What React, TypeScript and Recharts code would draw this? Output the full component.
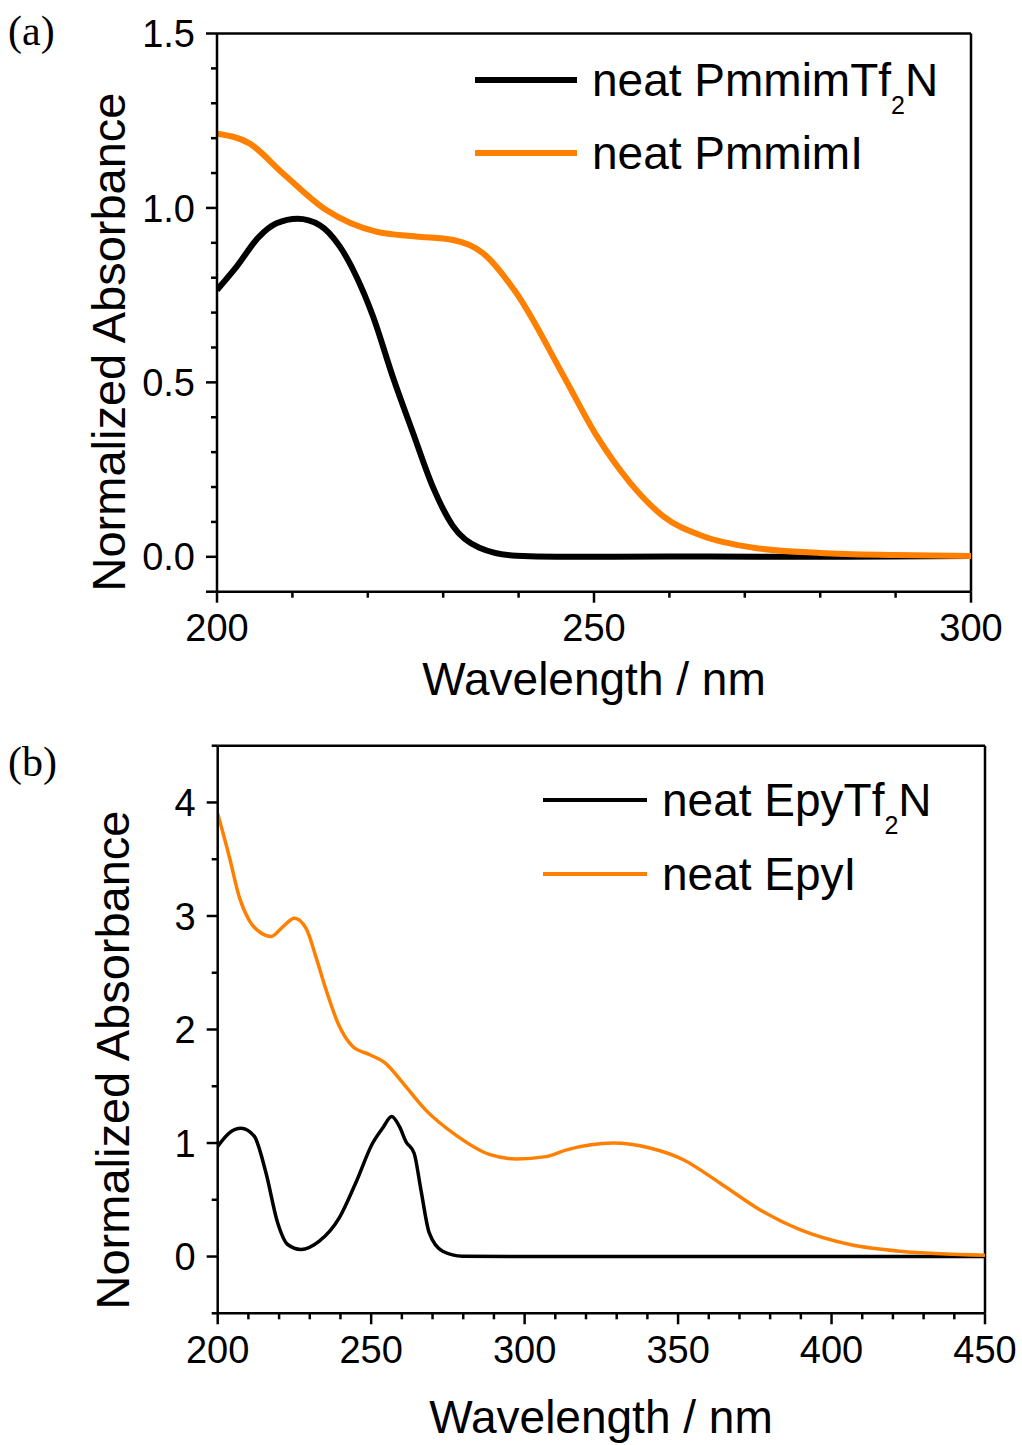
import React from 'react';
import { LineChart, Line, XAxis, YAxis, ReferenceLine, Legend, Label } from 'recharts';

const FONT = '"Liberation Sans", Arial, Helvetica, sans-serif';
const SERIF = '"Liberation Serif", "Times New Roman", serif';
const ORANGE = '#FF8000';

// ---------- Panel (a) data ----------
const wlA_Tf2N = [200, 202.6, 205.6, 207.9, 210.7, 213.6, 216.3, 218.5, 220.7, 223.3, 226.0, 228.6, 231.3, 234.8, 239.7, 245, 260, 280, 300];
const absA_Tf2N = [0.765, 0.832, 0.918, 0.956, 0.969, 0.951, 0.889, 0.803, 0.689, 0.517, 0.355, 0.202, 0.088, 0.026, 0.003, 0.0, 0.001, 0.0, 0.002];

const wlA_I = [200, 204.3, 208.75, 214.5, 221.1, 226.4, 231.3, 235.3, 239.7, 246.0, 250.4, 254.8, 259.2, 264.5, 271.2, 280, 290, 300];
const absA_I = [1.213, 1.185, 1.099, 0.994, 0.932, 0.918, 0.908, 0.87, 0.756, 0.517, 0.345, 0.212, 0.116, 0.059, 0.026, 0.011, 0.005, 0.002];

const xMajorA = [200, 250, 300];
const xMinorA = [210, 220, 230, 240, 260, 270, 280, 290];
const yMajorA = [0, 0.5, 1.0, 1.5];
const yMajorLabelsA = ['0.0', '0.5', '1.0', '1.5'];
const yMinorA = [-0.1, 0.1, 0.2, 0.3, 0.4, 0.6, 0.7, 0.8, 0.9, 1.1, 1.2, 1.3, 1.4];

// ---------- Panel (b) data ----------
const wlB_Tf2N = [200, 203.8, 207.6, 211.9, 215.7, 219.5, 222.8, 227.1, 233.1, 239.6, 245.0, 250.5, 253.7, 256.7, 259.2, 261.3, 264.0, 266.2, 268.9, 273.3, 279.8, 300, 350, 400, 450];
const absB_Tf2N = [0.97, 1.09, 1.13, 1.06, 0.74, 0.3, 0.106, 0.062, 0.135, 0.34, 0.65, 1.0, 1.13, 1.234, 1.146, 1.014, 0.91, 0.59, 0.21, 0.047, 0.003, 0, 0, 0, 0];

const wlB_I = [200, 203.8, 207.0, 210.3, 214.1, 217.4, 221.2, 225.0, 228.8, 232.0, 235.3, 239.6, 244.0, 249.4, 254.8, 260.3, 267.8, 277.6, 288.5, 297.3, 306.9, 313.7, 328.9, 340.8, 351.7, 363.6, 376.6, 389.7, 406.0, 422.3, 450];
const absB_I = [3.9, 3.52, 3.17, 2.96, 2.85, 2.82, 2.905, 2.98, 2.89, 2.64, 2.35, 2.03, 1.85, 1.78, 1.7, 1.53, 1.29, 1.07, 0.9, 0.86, 0.88, 0.94, 1.0, 0.956, 0.853, 0.648, 0.413, 0.237, 0.106, 0.047, 0.012];

const xMajorB = [200, 250, 300, 350, 400, 450];
const xMinorB = [210, 220, 230, 240, 260, 270, 280, 290, 310, 320, 330, 340, 360, 370, 380, 390, 410, 420, 430, 440];
const yMajorB = [0, 1, 2, 3, 4];
const yMajorLabelsB = ['0', '1', '2', '3', '4'];
const yMinorB = [-0.5, 0.5, 1.5, 2.5, 3.5, 4.5];

const toSeries = (xs: number[], ys: number[]) => xs.map((x, i) => ({ x, y: ys[i] }));

const near = (a: number, b: number) => Math.abs(a - b) < 1e-6;

const makeXTick = (majors: number[], labels: string[]) => (props: any) => {
  const { x, y, payload } = props;
  const v = payload.value;
  const idx = majors.findIndex((m) => near(m, v));
  const isMajor = idx >= 0;
  return (
    <g>
      <line x1={x} y1={y} x2={x} y2={y + (isMajor ? 11 : 6)} stroke="#000" strokeWidth={2.5} />
      {isMajor && (
        <text x={x} y={y + 49.5} textAnchor="middle" fontSize={38} fontFamily={FONT} fill="#000">
          {labels[idx]}
        </text>
      )}
    </g>
  );
};

const makeYTick = (majors: number[], labels: string[], longMinor: number[]) => (props: any) => {
  const { x, y, payload } = props;
  const v = payload.value;
  const idx = majors.findIndex((m) => near(m, v));
  const isMajor = idx >= 0;
  const len = isMajor || longMinor.some((m) => near(m, v)) ? 11 : 6;
  return (
    <g>
      <line x1={x - len} y1={y} x2={x} y2={y} stroke="#000" strokeWidth={2.5} />
      {isMajor && (
        <text x={x - 22} y={y} dy="0.36em" textAnchor="end" fontSize={38} fontFamily={FONT} fill="#000">
          {labels[idx]}
        </text>
      )}
    </g>
  );
};

const LegendBox = ({ tag, tagY, rows, lineX1, lineX2, textX, width }: any) => (
  <svg width={1022} height={200} style={{ overflow: 'visible' }}>
    <text x={8} y={tagY} fontSize={42} fontFamily={SERIF} fill="#000">{tag}</text>
    {rows.map((r: any, i: number) => (
      <g key={i}>
        <line x1={lineX1} y1={r.y} x2={lineX2} y2={r.y} stroke={r.color} strokeWidth={width} />
        <text x={textX} y={r.y + 16} fontSize={46} fontFamily={FONT} fill="#000">
          {r.main}
          {r.sub && (
            <>
              <tspan fontSize={25} dy={18}>{r.sub}</tspan>
              <tspan fontSize={46} dy={-18}>{r.tail}</tspan>
            </>
          )}
        </text>
      </g>
    ))}
  </svg>
);

const yLabel = (cx: number, cy: number) => () => (
  <text x={cx} y={cy} transform={`rotate(-90 ${cx} ${cy})`} dy="0.36em" textAnchor="middle" fontSize={47} fontFamily={FONT} fill="#000">
    Normalized Absorbance
  </text>
);

const xLabel = (cx: number, baseline: number) => () => (
  <text x={cx} y={baseline} textAnchor="middle" fontSize={46} fontFamily={FONT} fill="#000">
    Wavelength / nm
  </text>
);

const axisLineStyle = { stroke: '#000', strokeWidth: 2.5 };

function PanelA() {
  const s1 = toSeries(wlA_Tf2N, absA_Tf2N);
  const s2 = toSeries(wlA_I, absA_I);
  const xTicks = [...xMajorA, ...xMinorA].sort((a, b) => a - b);
  const yTicks = [...yMajorA, ...yMinorA].sort((a, b) => a - b);
  return (
    <LineChart width={1022} height={720} margin={{ top: 33.5, right: 51, left: 0, bottom: 0 }}>
      <XAxis
        type="number"
        dataKey="x"
        domain={[200, 300]}
        allowDataOverflow
        ticks={xTicks}
        interval={0}
        tickSize={0}
        tickMargin={0}
        tickLine={false}
        axisLine={axisLineStyle}
        stroke="#000"
        height={128.3}
        tick={makeXTick(xMajorA, xMajorA.map(String))}
      >
        <Label content={xLabel(594, 695)} />
      </XAxis>
      <YAxis
        type="number"
        domain={[-0.1, 1.5]}
        allowDataOverflow
        ticks={yTicks}
        interval={0}
        tickSize={0}
        tickMargin={0}
        tickLine={false}
        axisLine={axisLineStyle}
        stroke="#000"
        width={217}
        tick={makeYTick(yMajorA, yMajorLabelsA, [-0.1])}
      >
        <Label content={yLabel(108, 342)} />
      </YAxis>
      <ReferenceLine y={1.5} stroke="#000" strokeWidth={2.5} />
      <ReferenceLine x={300} stroke="#000" strokeWidth={2.5} />
      <Line data={s1} dataKey="y" type="monotone" stroke="#000" strokeWidth={6} dot={false} isAnimationActive={false} name="neat PmmimTf2N" />
      <Line data={s2} dataKey="y" type="monotone" stroke={ORANGE} strokeWidth={6} dot={false} isAnimationActive={false} name="neat PmmimI" />
      <Legend
        layout="vertical"
        verticalAlign="middle"
        align="center"
        wrapperStyle={{ left: 0, top: 0, width: 1022, height: 200, pointerEvents: 'none' }}
        content={() => (
          <LegendBox
            tag="(a)"
            tagY={45}
            lineX1={475}
            lineX2={577}
            textX={592}
            width={6}
            rows={[
              { y: 80, color: '#000', main: 'neat PmmimTf', sub: '2', tail: 'N' },
              { y: 153, color: ORANGE, main: 'neat PmmimI' },
            ]}
          />
        )}
      />
    </LineChart>
  );
}

function PanelB() {
  const s1 = toSeries(wlB_Tf2N, absB_Tf2N);
  const s2 = toSeries(wlB_I, absB_I);
  const xTicks = [...xMajorB, ...xMinorB].sort((a, b) => a - b);
  const yTicks = [...yMajorB, ...yMinorB].sort((a, b) => a - b);
  return (
    <LineChart width={1022} height={725} margin={{ top: 25.7, right: 37, left: 0, bottom: 0 }}>
      <XAxis
        type="number"
        dataKey="x"
        domain={[200, 450]}
        allowDataOverflow
        ticks={xTicks}
        interval={0}
        tickSize={0}
        tickMargin={0}
        tickLine={false}
        axisLine={axisLineStyle}
        stroke="#000"
        height={131.7}
        tick={makeXTick(xMajorB, xMajorB.map(String))}
      >
        <Label content={xLabel(601, 713)} />
      </XAxis>
      <YAxis
        type="number"
        domain={[-0.5, 4.5]}
        allowDataOverflow
        ticks={yTicks}
        interval={0}
        tickSize={0}
        tickMargin={0}
        tickLine={false}
        axisLine={axisLineStyle}
        stroke="#000"
        width={217.7}
        tick={makeYTick(yMajorB, yMajorLabelsB, [])}
      >
        <Label content={yLabel(112, 340)} />
      </YAxis>
      <ReferenceLine y={4.5} stroke="#000" strokeWidth={2.5} />
      <ReferenceLine x={450} stroke="#000" strokeWidth={2.5} />
      <Line data={s1} dataKey="y" type="monotone" stroke="#000" strokeWidth={3.5} dot={false} isAnimationActive={false} name="neat EpyTf2N" />
      <Line data={s2} dataKey="y" type="monotone" stroke={ORANGE} strokeWidth={3.5} dot={false} isAnimationActive={false} name="neat EpyI" />
      <Legend
        layout="vertical"
        verticalAlign="middle"
        align="center"
        wrapperStyle={{ left: 0, top: 0, width: 1022, height: 200, pointerEvents: 'none' }}
        content={() => (
          <LegendBox
            tag="(b)"
            tagY={56}
            lineX1={543}
            lineX2={647}
            textX={662}
            width={4}
            rows={[
              { y: 80, color: '#000', main: 'neat EpyTf', sub: '2', tail: 'N' },
              { y: 154, color: ORANGE, main: 'neat EpyI' },
            ]}
          />
        )}
      />
    </LineChart>
  );
}

export default function App() {
  return (
    <div style={{ position: 'absolute', left: 0, top: 0, width: 1022, height: 1445, background: '#fff' }}>
      <div style={{ position: 'absolute', left: 0, top: 0 }}>
        <PanelA />
      </div>
      <div style={{ position: 'absolute', left: 0, top: 720 }}>
        <PanelB />
      </div>
    </div>
  );
}
